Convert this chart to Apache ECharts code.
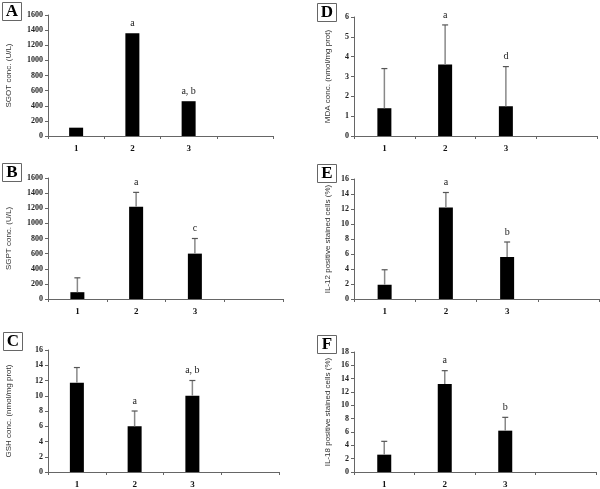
<!DOCTYPE html>
<html><head><meta charset="utf-8">
<script src="https://cdn.jsdelivr.net/npm/echarts@6/dist/echarts.min.js"></script>
<style>html,body{margin:0;padding:0;background:#fff}#c{width:600px;height:489px}</style>
</head><body><div id="c"></div>
<script>
const categories = ['1', '2', '3', ''];

const panelKeys = ['A', 'B', 'C', 'D', 'E', 'F'];
const axisNames = ['SGOT conc. (U/L)', 'SGPT conc. (U/L)', 'GSH conc. (nmol/mg prot)',
                   'MDA conc. (nmol/mg prot)', 'IL-12 positive stained cells (%)', 'IL-18 positive stained cells (%)'];
const axisMax = [1600, 1600, 16, 6, 16, 18];
const axisInterval = [200, 200, 2, 1, 2, 2];

const aValues = [110, 1360, 460];
const aErrTop = [null, null, null];
const aLetters = ['', 'a', 'a, b'];

const bValues = [90, 1220, 600];
const bErrTop = [280, 1410, 800];
const bLetters = ['', 'a', 'c'];

const cValues = [11.7, 6.0, 10.0];
const cErrTop = [13.7, 8.0, 12.0];
const cLetters = ['', 'a', 'a, b'];

const dValues = [1.4, 3.6, 1.5];
const dErrTop = [3.4, 5.6, 3.5];
const dLetters = ['', 'a', 'd'];

const eValues = [1.9, 12.2, 5.6];
const eErrTop = [3.9, 14.2, 7.6];
const eLetters = ['', 'a', 'b'];

const fValues = [2.6, 13.2, 6.2];
const fErrTop = [4.6, 15.2, 8.2];
const fLetters = ['', 'a', 'b'];

const allValues = [aValues, bValues, cValues, dValues, eValues, fValues];
const allErr = [aErrTop, bErrTop, cErrTop, dErrTop, eErrTop, fErrTop];
const allLetters = [aLetters, bLetters, cLetters, dLetters, eLetters, fLetters];

// layout
const grids = [
  {left: 48, top: 15, width: 225, height: 121},
  {left: 48, top: 178, width: 235, height: 121},
  {left: 48, top: 350, width: 231, height: 124},
  {left: 354, top: 17, width: 243, height: 119},
  {left: 354, top: 179, width: 245, height: 120},
  {left: 354, top: 352, width: 242, height: 122}
];
const nameGaps = [35, 35, 35, 22, 22, 22];
const boxes = [
  {x: 2, y: 2}, {x: 2, y: 163}, {x: 3, y: 332},
  {x: 317, y: 3}, {x: 317, y: 164}, {x: 317, y: 335}
];

const axisColor = '#666';
const option = {
  animation: false,
  backgroundColor: '#fff',
  grid: grids.map(g => Object.assign({containLabel: false}, g)),
  xAxis: grids.map((g, i) => ({
    type: 'category', gridIndex: i, data: categories, boundaryGap: true,
    axisLine: {lineStyle: {color: axisColor, width: 1}},
    axisTick: {show: true, interval: 0, alignWithLabel: false, length: 3, lineStyle: {color: axisColor}},
    axisLabel: {margin: 8, fontFamily: 'Liberation Serif', fontWeight: 'bold', fontSize: 9, color: '#111'},
    splitLine: {show: false}
  })),
  yAxis: grids.map((g, i) => ({
    type: 'value', gridIndex: i, min: 0, max: axisMax[i], interval: axisInterval[i],
    name: axisNames[i], nameLocation: 'middle', nameGap: nameGaps[i], nameRotate: 90,
    nameTextStyle: {fontFamily: 'Liberation Sans', fontSize: 8, color: '#333'},
    axisLine: {show: true, lineStyle: {color: axisColor, width: 1}},
    axisTick: {show: true, length: 3, lineStyle: {color: axisColor}},
    axisLabel: {margin: 5, fontFamily: 'Liberation Serif', fontWeight: 'bold', fontSize: 8, color: '#222',
                formatter: v => String(v)},
    splitLine: {show: false}
  })),
  series: [],
  graphic: boxes.map((b, i) => ({
    type: 'group', left: b.x, top: b.y,
    children: [
      {type: 'rect', shape: {x: 0, y: 0, width: 19, height: 18}, style: {fill: '#fff', stroke: '#666', lineWidth: 1}},
      {type: 'text', x: 9.5, y: 9.5, style: {text: panelKeys[i], font: 'bold 17px "Liberation Serif"', fill: '#000', align: 'center', verticalAlign: 'middle'}}
    ]
  }))
};

for (let i = 0; i < 6; i++) {
  option.series.push({
    type: 'bar', xAxisIndex: i, yAxisIndex: i, barWidth: 14,
    itemStyle: {color: '#000'},
    data: allValues[i]
  });
  const errData = allValues[i].map((v, k) => [k, v, allErr[i][k] == null ? v : allErr[i][k], allLetters[i][k]]);
  option.series.push({
    type: 'custom', xAxisIndex: i, yAxisIndex: i, z: 3,
    data: errData,
    renderItem: function (params, api) {
      const x = api.value(0);
      const base = api.coord([x, api.value(1)]);
      const top = api.coord([x, api.value(2)]);
      const letter = errData[params.dataIndex][3];
      const children = [];
      if (top[1] < base[1] - 0.5) {
        children.push({type: 'line', shape: {x1: base[0], y1: base[1], x2: top[0], y2: top[1]}, style: {stroke: '#888', lineWidth: 1.5}});
        children.push({type: 'line', shape: {x1: top[0] - 3, y1: top[1], x2: top[0] + 3, y2: top[1]}, style: {stroke: '#555', lineWidth: 1.2}});
      }
      if (letter) {
        children.push({type: 'text', x: top[0], y: top[1] - 10, style: {text: letter, font: '10px "Liberation Serif"', fill: '#222', align: 'center', verticalAlign: 'middle'}});
      }
      return {type: 'group', children: children};
    }
  });
}

const chart = echarts.init(document.getElementById('c'), null, {renderer: 'canvas'});
chart.setOption(option);
</script>
</body></html>
